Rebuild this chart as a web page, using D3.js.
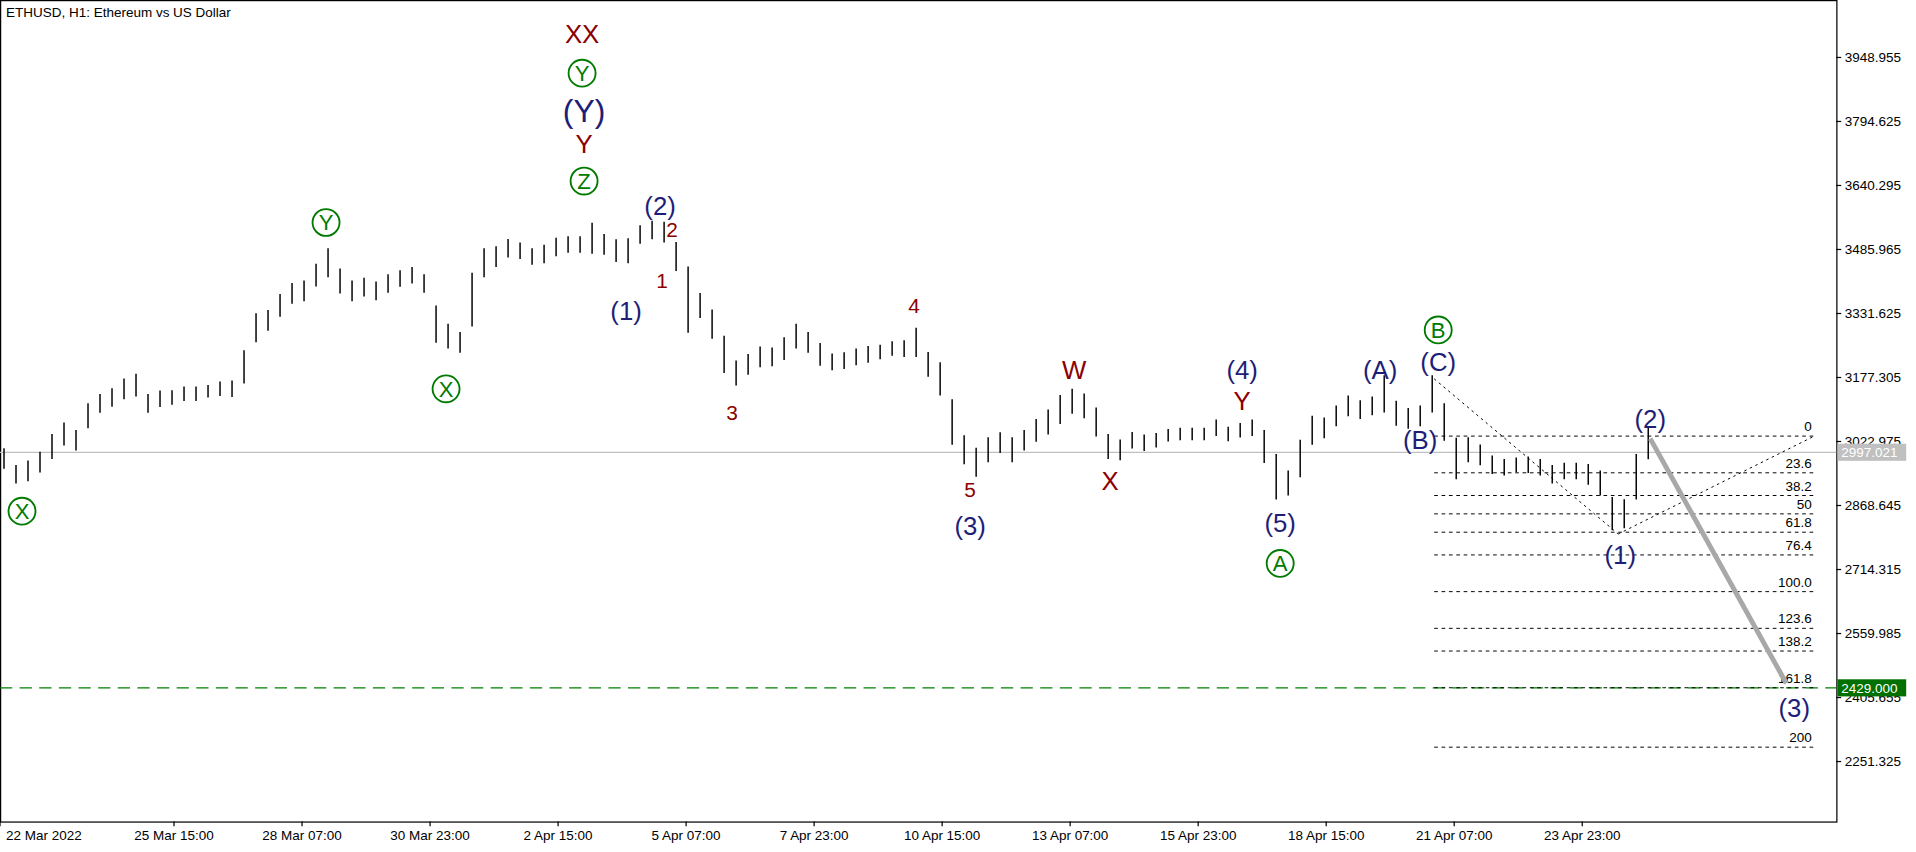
<!DOCTYPE html><html><head><meta charset="utf-8"><script src="https://cdn.jsdelivr.net/npm/d3@7"></script>
<style>body{margin:0;background:#fff}svg{display:block}text{font-family:"Liberation Sans",Arial,sans-serif}</style></head><body>
<svg id="c" width="1916" height="852" viewBox="0 0 1562 697" preserveAspectRatio="none"></svg>
<script>
// 6-hour bars: mid prices
const mids=[2982,2944,2952,2973,3011,3041,3026,3085,3115,3129,3150,3159,3115,3126,3129,3138,3138,3144,3150,3150,
3203,3297,3315,3351,3380,3386,3424,3454,3410,3386,3395,3386,3404,3416,3424,3404,3306,3277,3262,3365,
3454,3469,3489,3483,3469,3475,3492,3498,3498,3513,3498,3483,3483,3522,3533,3528,3469,3365,3351,3306,
3233,3188,3209,3227,3227,3247,3277,3262,3233,3215,3218,3227,3233,3239,3247,3247,3262,3209,3174,3070,
3003,2973,3003,3020,3003,3026,3050,3070,3100,3120,3109,3070,3011,3003,3026,3020,3026,3038,3041,3041,
3041,3056,3041,3050,3056,3011,2938,2923,2982,3050,3056,3085,3109,3100,3109,3138,3091,3079,3085,3138,
3070,2982,3003,2991,2967,2961,2967,2967,2961,2944,2952,2952,2944,2923,2849,2849,2938,3020];
// bar high-low spread (price units)
const spreads=[50,45,50,50,60,55,50,60,45,45,50,55,45,40,35,35,35,30,35,40,
80,70,50,55,50,50,55,70,60,50,45,45,45,40,40,45,90,60,50,130,
70,50,45,40,40,45,45,40,40,75,50,55,60,45,45,50,70,160,60,70,
90,60,50,50,45,55,60,50,55,40,40,40,40,35,35,40,70,60,80,110,
70,70,60,50,60,50,55,60,70,60,60,70,60,50,40,40,35,30,30,30,
30,40,35,35,40,80,110,60,90,70,50,50,50,45,45,90,60,50,50,90,
90,100,60,50,45,40,35,40,40,45,40,40,50,60,80,70,110,80];
const yTicks=[3948.955,3794.625,3640.295,3485.965,3331.625,3177.305,3022.975,2868.645,2714.315,2559.985,2405.655,2251.325];
const xTickHours=[0,87,151,215,279,343,407,471,535,599,663,727,791];
const xTickLabels=["22 Mar 2022","25 Mar 15:00","28 Mar 07:00","30 Mar 23:00","2 Apr 15:00","5 Apr 07:00","7 Apr 23:00","10 Apr 15:00","13 Apr 07:00","15 Apr 23:00","18 Apr 15:00","21 Apr 07:00","23 Apr 23:00"];
const fibLevels=[0,23.6,38.2,50,61.8,76.4,100,123.6,138.2,161.8,200];
const fibLabels=["0","23.6","38.2","50","61.8","76.4","100.0","123.6","138.2","161.8","200"];
const fib0=3036, fib100=2661;
const currentPrice=2997.021, targetPrice=2429.000;
// annotations: [hour, price, text, style]
const notes=[[11,2855,"X","g"],[163,3551,"Y","g"],[223,3150,"X","g"],[291,4005,"XX","r"],[291,3911,"Y","g"],[292,3822,"(Y)","bB"],
[292,3740,"Y","r"],[292,3651,"Z","g"],[330,3592,"(2)","b"],[336,3533,"2","rs"],[331,3410,"1","rs"],[313,3339,"(1)","b"],
[366,3094,"3","rs"],[457,3351,"4","rs"],[485,2908,"5","rs"],[485,2820,"(3)","b"],[537,3197,"W","r"],[555,2929,"X","r"],
[621,3197,"(4)","b"],[621,3121,"Y","r"],[640,2826,"(5)","b"],[640,2729,"A","g"],[690,3197,"(A)","b"],[719,3292,"B","g"],
[719,3215,"(C)","b"],[710,3026,"(B)","b"],[810,2749,"(1)","b"],[825,3077,"(2)","b"],[897,2380,"(3)","b"]];

const svg=d3.select("#c");
const L=0,R=1497,T=0,B=672;
const x=d3.scaleLinear().domain([0,918]).range([L,R]);
const y=d3.scaleLinear().domain([3948.955,2251.325]).range([47,623]);
svg.append("rect").attr("x",0.5).attr("y",0.5).attr("width",R).attr("height",B).attr("fill","none").attr("stroke","#000");
svg.append("line").attr("x1",L).attr("x2",R).attr("y1",y(currentPrice)).attr("y2",y(currentPrice)).attr("stroke","#c0c0c0");
svg.append("line").attr("x1",L).attr("x2",R).attr("y1",y(targetPrice)).attr("y2",y(targetPrice)).attr("stroke","#008000").attr("stroke-dasharray","10,6");
svg.append("g").selectAll("line").data(mids).join("line")
 .attr("x1",(d,i)=>x(2+i*6)).attr("x2",(d,i)=>x(2+i*6))
 .attr("y1",(d,i)=>y(d+spreads[i]/2)).attr("y2",(d,i)=>y(d-spreads[i]/2))
 .attr("stroke","#000").attr("stroke-width",1.2);
const fx1=x(717),fx2=x(907);
const fp=l=>fib0-(fib0-fib100)*l/100;
svg.append("g").selectAll("line").data(fibLevels).join("line").attr("x1",fx1).attr("x2",fx2)
 .attr("y1",d=>y(fp(d))).attr("y2",d=>y(fp(d))).attr("stroke","#000").attr("stroke-dasharray","3,3").attr("stroke-width",0.8);
svg.append("g").selectAll("text").data(fibLevels).join("text").attr("x",fx2-2).attr("y",d=>y(fp(d))-4)
 .attr("text-anchor","end").attr("font-size",11).text((d,i)=>fibLabels[i]);
const dl=[[717,3174,809,2800],[809,2800,907,3036]];
dl.forEach(d=>svg.append("line").attr("x1",x(d[0])).attr("y1",y(d[1])).attr("x2",x(d[2])).attr("y2",y(d[3])).attr("stroke","#000").attr("stroke-dasharray","2,3").attr("stroke-width",0.8));
svg.append("line").attr("x1",x(825)).attr("y1",y(3030)).attr("x2",x(893)).attr("y2",y(2440)).attr("stroke","#a8a8a8").attr("stroke-width",4);
yTicks.forEach(t=>{svg.append("line").attr("x1",R).attr("x2",R+4).attr("y1",y(t)).attr("y2",y(t)).attr("stroke","#000");
 svg.append("text").attr("x",R+7).attr("y",y(t)+4).attr("font-size",11).text(t.toFixed(3));});
[[currentPrice,"#c0c0c0"],[targetPrice,"#007000"]].forEach(([p,c])=>{svg.append("rect").attr("x",R+1).attr("y",y(p)-7).attr("width",56).attr("height",14).attr("fill",c);
 svg.append("text").attr("x",R+4).attr("y",y(p)+4).attr("font-size",11).attr("fill","#fff").text(p.toFixed(3));});
xTickHours.forEach((h,i)=>{svg.append("line").attr("x1",x(h)).attr("x2",x(h)).attr("y1",B).attr("y2",B+4).attr("stroke","#000");
 svg.append("text").attr("x",i==0?x(h)+5:x(h)).attr("y",B+15).attr("font-size",11).attr("text-anchor",i==0?"start":"middle").text(xTickLabels[i]);});
svg.append("text").attr("x",5).attr("y",14).attr("font-size",11).text("ETHUSD, H1:  Ethereum vs US Dollar");
const col={g:"#007a00",r:"#8b0000",b:"#1e1e78"};
notes.forEach(([h,p,t,s])=>{const cx=x(h),cy=y(p);const c=col[s[0]];
 let fs=s=="bB"?26:(s=="rs"?17:21);
 if(s=="g"){svg.append("circle").attr("cx",cx).attr("cy",cy).attr("r",11).attr("fill","none").attr("stroke",c).attr("stroke-width",1.5);fs=18;}
 svg.append("text").attr("x",cx).attr("y",cy).attr("dy","0.36em").attr("text-anchor","middle").attr("font-size",fs).attr("fill",c).text(t);});
</script></body></html>
